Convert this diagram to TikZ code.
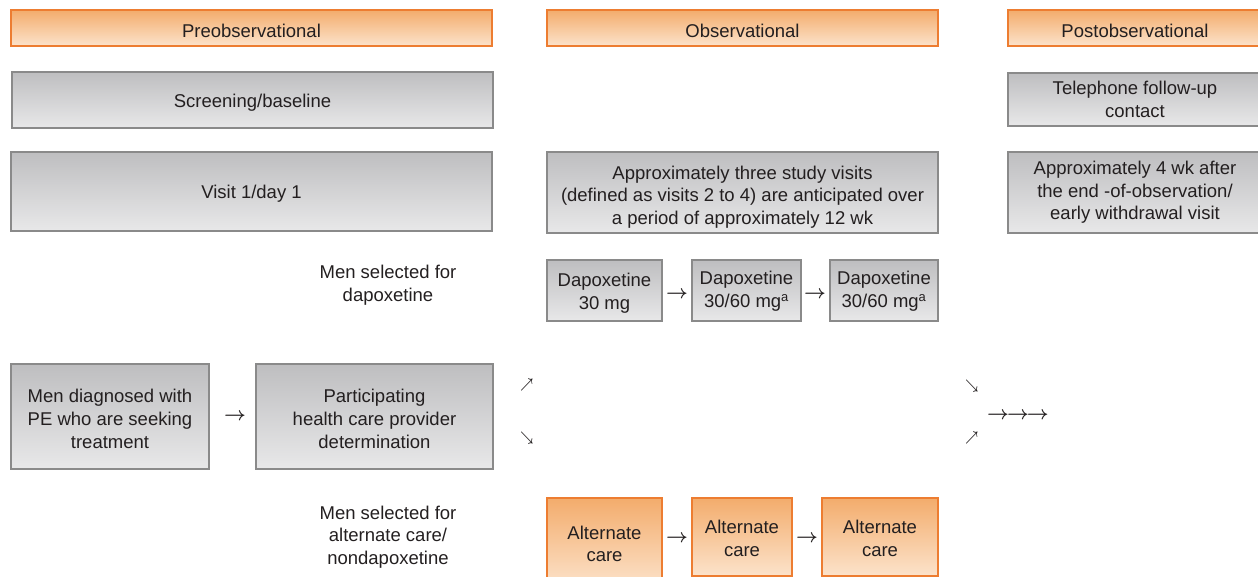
\documentclass[tikz,border=0pt]{standalone}
\usepackage{fontspec}
\usepackage{graphicx}
\setmainfont{Liberation Sans}
\definecolor{txt}{HTML}{231F20}
\definecolor{orbd}{HTML}{ED7D31}
\definecolor{ortop}{HTML}{F3AC6C}
\definecolor{orbot}{HTML}{FCE3CB}
\definecolor{grbd}{HTML}{8A8A8A}
\definecolor{grtop}{HTML}{BEBEC0}
\definecolor{grbot}{HTML}{E8E8E9}
\tikzset{
  base/.style={inner sep=0pt, line width=1.1pt},
  graybox/.style={base, draw=grbd, top color=grtop, bottom color=grbot},
  orangebox/.style={base, draw=orbd, top color=ortop, bottom color=orbot},
  plain/.style={align=center, inner sep=0pt, text=txt, font=\fontsize{18.5}{22.7}\selectfont},
  arr/.style={inner sep=0pt, text=txt, yshift=-2pt, font=\fontsize{18.5}{22.5}\selectfont},
  darr/.style={inner sep=0pt, text=txt, font=\fontsize{13}{15}\selectfont},
}
\newcommand\rarr{{\boldmath$\rightarrow$}}
\newcommand\nearr{\scalebox{0.95}[1.15]{\boldmath$\nearrow$}}
\newcommand\searr{\scalebox{0.95}[1.15]{\boldmath$\searrow$}}
\newcommand\rarrs{\scalebox{1.1}{\rarr}}
\begin{document}
\begin{tikzpicture}[x=1pt,y=-1pt]
\useasboundingbox (0,0) rectangle (1258,577);
\clip (0,0) rectangle (1258,577);
% headers
\node[orangebox, minimum width=481pt, minimum height=36pt, label={[plain,yshift=-3pt]center:Preobservational}] (pre) at (251.5,28) {};
\node[orangebox, minimum width=391pt, minimum height=36pt, label={[plain,yshift=-3pt]center:Observational}] (obs) at (742.5,28) {};
\node[orangebox, minimum width=254pt, minimum height=36pt, label={[plain,yshift=-3pt]center:Postobservational}] (post) at (1135,28) {};
% row 2
\node[graybox, minimum width=481pt, minimum height=56pt, label={[plain,yshift=-3pt]center:Screening/baseline}] (screen) at (252.5,100) {};
\node[graybox, minimum width=254pt, minimum height=53pt, label={[plain]center:{Telephone follow-up\\contact}}] (phone) at (1135,99.5) {};
% row 3
\node[graybox, minimum width=481pt, minimum height=79pt, label={[plain,yshift=-2pt]center:Visit 1/day 1}] (visit) at (251.5,191.5) {};
\node[graybox, minimum width=391pt, minimum height=81pt, label={[plain,yshift=-4.5pt]center:{Approximately three study visits\\(defined as visits 2 to 4) are anticipated over\\a period of approximately 12 wk}}] (three) at (742.5,192.5) {};
\node[graybox, minimum width=254pt, minimum height=81pt, label={[plain]center:{Approximately 4 wk after\\the end -of-observation/\\early withdrawal visit}}] (fourwk) at (1135,192.5) {};
% dapoxetine row
\node[plain] (seldap) at (388,285) {Men selected for\\dapoxetine};
\node[graybox, minimum width=115pt, minimum height=61pt, label={[plain,yshift=-3pt]center:{Dapoxetine\\30 mg}}] (dap1) at (604.5,290.5) {};
\node[graybox, minimum width=109pt, minimum height=61pt, label={[plain,yshift=-1pt]center:{Dapoxetine\\30/60 mg\textsuperscript{a}}}] (dap2) at (746.5,290.5) {};
\node[graybox, minimum width=108pt, minimum height=61pt, label={[plain,yshift=-1pt]center:{Dapoxetine\\30/60 mg\textsuperscript{a}}}] (dap3) at (884,290.5) {};
\node[arr] (a12) at (677,293) {\rarrs};
\node[arr] (a23) at (815,293) {\rarrs};
% middle row
\node[graybox, minimum width=198pt, minimum height=105pt, label={[plain,yshift=-2.5pt]center:{Men diagnosed with\\PE who are seeking\\treatment}}] (men) at (110,416.5) {};
\node[graybox, minimum width=237pt, minimum height=105pt, label={[plain,yshift=-2.5pt]center:{Participating\\health care provider\\determination}}] (part) at (374.5,416.5) {};
\node[arr] (amp) at (235,415) {\rarrs};
\node[darr] (ne1) at (527,385) {\nearr};
\node[darr] (se1) at (527,438) {\searr};
\node[darr] (se2) at (972,386) {\searr};
\node[darr] (ne2) at (972,438) {\nearr};
\node[arr] (rrr) at (1018,414) {\rarrs\kern-2pt\rarrs\kern-2pt\rarrs};
% alternate care row
\node[plain] (selalt) at (388,537) {Men selected for\\alternate care/\\nondapoxetine};
\node[orangebox, minimum width=115pt, minimum height=90pt, label={[plain,yshift=-1pt]center:{Alternate\\care}}] (alt1) at (604.5,543) {};
\node[orangebox, minimum width=100pt, minimum height=78pt, label={[plain,yshift=-1.5pt]center:{Alternate\\care}}] (alt2) at (742,537) {};
\node[orangebox, minimum width=116pt, minimum height=78pt, label={[plain,yshift=-1.5pt]center:{Alternate\\care}}] (alt3) at (880,537) {};
\node[arr] (b12) at (677,537) {\rarrs};
\node[arr] (b23) at (807,537) {\rarrs};
\end{tikzpicture}
\end{document}
